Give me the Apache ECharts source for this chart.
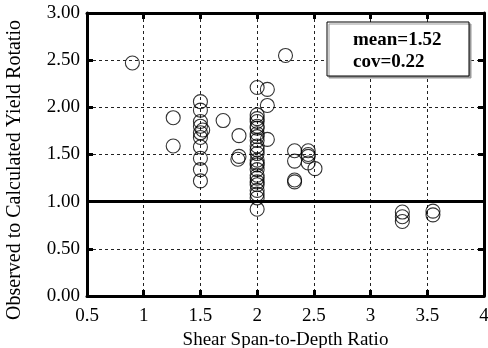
<!DOCTYPE html>
<html>
<head>
<meta charset="utf-8">
<script src="https://cdn.jsdelivr.net/npm/echarts@6/dist/echarts.min.js"></script>
<style>
  html, body { margin: 0; padding: 0; background: #fff; }
  #chart { width: 488px; height: 348px; }
</style>
</head>
<body>
<div id="chart"></div>
<script>
// shear span-to-depth ratio (x) and observed/calculated yield rotation (y)
const shearRatio = [
  0.90,
  1.26, 1.26,
  1.50, 1.50, 1.50, 1.50, 1.50, 1.50, 1.50, 1.50, 1.50, 1.50, 1.52,
  1.70, 1.84, 1.84, 1.83,
  2.00, 2.00, 2.00, 2.00, 2.00, 2.00, 2.00, 2.00, 2.00, 2.00, 2.00, 2.00,
  2.00, 2.00, 2.00, 2.00, 2.00, 2.00, 2.00, 2.00, 2.00, 2.00, 2.00, 2.00,
  2.09, 2.09, 2.09,
  2.25,
  2.33, 2.33, 2.33, 2.33,
  2.45, 2.45, 2.45, 2.45, 2.51,
  3.28, 3.28, 3.28,
  3.55, 3.55
];
const rotationRatio = [
  2.47,
  1.89, 1.59,
  2.06, 1.97, 1.85, 1.80, 1.73, 1.68, 1.58, 1.46, 1.34, 1.22, 1.76,
  1.86, 1.70, 1.48, 1.45,
  2.21, 1.92, 1.88, 1.85, 1.80, 1.78, 1.72, 1.69, 1.65, 1.59, 1.55, 1.51,
  1.44, 1.41, 1.39, 1.34, 1.28, 1.25, 1.21, 1.18, 1.12, 1.08, 1.04, 0.92,
  2.19, 2.02, 1.66,
  2.55,
  1.54, 1.43, 1.23, 1.21,
  1.54, 1.50, 1.48, 1.41, 1.35,
  0.89, 0.84, 0.79,
  0.90, 0.86
];
const statsLines = ['mean=1.52', 'cov=0.22'];

const points = shearRatio.map((x, i) => [x, rotationRatio[i]]);

const chart = echarts.init(document.getElementById('chart'));

const serif = 'Liberation Serif';
const frame = { show: true, onZero: false, lineStyle: { color: '#000', width: 3 } };
const tick = { show: true, inside: true, length: 6, lineStyle: { color: '#000', width: 3 } };
const grid = { show: true, lineStyle: { color: '#222', width: 1, type: [3, 3] } };

const option = {
  animation: false,
  backgroundColor: '#fff',
  grid: { left: 87, right: 4, top: 13, bottom: 52, outerBoundsMode: 'none' },
  xAxis: [
    {
      type: 'value', min: 0.5, max: 4, interval: 0.5, position: 'bottom',
      axisLine: frame, axisTick: tick, splitLine: grid,
      axisLabel: { color: '#000', fontFamily: serif, fontSize: 19, margin: 11 },
      name: 'Shear Span-to-Depth Ratio', nameLocation: 'middle', nameGap: 34,
      nameTextStyle: { color: '#000', fontFamily: serif, fontSize: 19 }
    },
    {
      type: 'value', min: 0.5, max: 4, interval: 0.5, position: 'top',
      axisLine: frame, axisTick: tick, splitLine: { show: false },
      axisLabel: { show: false }
    }
  ],
  yAxis: [
    {
      type: 'value', min: 0, max: 3, interval: 0.5, position: 'left',
      axisLine: frame, axisTick: tick, splitLine: grid,
      axisLabel: {
        color: '#000', fontFamily: serif, fontSize: 19, margin: 7,
        formatter: v => v.toFixed(2)
      }
    },
    {
      type: 'value', min: 0, max: 3, interval: 0.5, position: 'right',
      axisLine: frame, axisTick: tick, splitLine: { show: false },
      axisLabel: { show: false }
    }
  ],
  series: [
    {
      type: 'scatter',
      data: points,
      symbol: 'circle',
      symbolSize: 14,
      itemStyle: { color: 'rgba(255,255,255,0)', borderColor: '#000', borderWidth: 1.1 },
      markLine: {
        silent: true,
        symbol: 'none',
        label: { show: false },
        lineStyle: { color: '#000', width: 3, type: 'solid' },
        data: [{ yAxis: 1 }]
      }
    }
  ],
  graphic: [
    {
      type: 'text', x: 15, y: 170, rotation: Math.PI / 2,
      style: {
        text: 'Observed to Calculated Yield Rotatio',
        font: '20px "Liberation Serif"', fill: '#000',
        align: 'center', verticalAlign: 'middle'
      }
    },
    {
      type: 'rect',
      shape: { x: 327, y: 22, width: 142, height: 54 },
      style: {
        fill: '#fff', stroke: '#000', lineWidth: 1,
        shadowColor: '#999', shadowOffsetX: 2, shadowOffsetY: 2, shadowBlur: 0
      },
      z: 10
    },
    {
      type: 'text', x: 353, y: 40, z: 11,
      style: {
        text: statsLines[0], font: 'bold 19px "Liberation Serif"', fill: '#000',
        align: 'left', verticalAlign: 'middle'
      }
    },
    {
      type: 'text', x: 353, y: 62, z: 11,
      style: {
        text: statsLines[1], font: 'bold 19px "Liberation Serif"', fill: '#000',
        align: 'left', verticalAlign: 'middle'
      }
    }
  ]
};

chart.setOption(option);
</script>
</body>
</html>
